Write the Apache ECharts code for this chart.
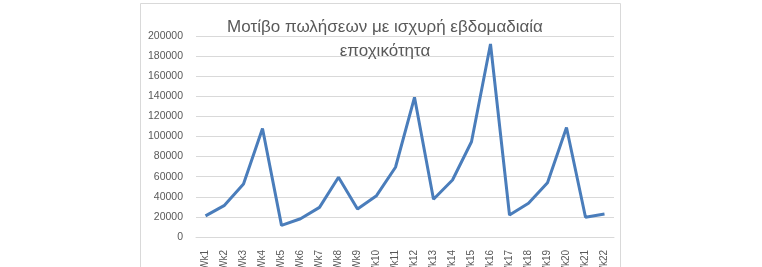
<!DOCTYPE html>
<html><head><meta charset="utf-8">
<script src="https://cdn.jsdelivr.net/npm/echarts@6/dist/echarts.min.js"></script>
<style>html,body{margin:0;padding:0;background:#fff}#c{width:762px;height:267px}</style>
</head><body><div id="c"></div>
<script>
var categories = ['Wk1','Wk2','Wk3','Wk4','Wk5','Wk6','Wk7','Wk8','Wk9','Wk10','Wk11','Wk12','Wk13','Wk14','Wk15','Wk16','Wk17','Wk18','Wk19','Wk20','Wk21','Wk22'];
var sales = [21000,31500,52700,108000,11600,18200,29500,59400,27900,41100,69400,139000,37500,56700,94800,192000,21900,33500,54000,109000,19600,22900];
var titleText = 'Μοτίβο πωλήσεων με ισχυρή εβδομαδιαία\nεποχικότητα';

var chart = echarts.init(document.getElementById('c'), null, {renderer:'canvas'});
chart.setOption({
  animation:false,
  backgroundColor:'#fff',
  graphic:[{type:'rect', shape:{x:140.5,y:3.5,width:480,height:300}, style:{fill:'none', stroke:'#d9d9d9', lineWidth:1}, silent:true}],
  title:{text:titleText, left:380, textAlign:'center', top:10,
    textStyle:{fontFamily:'Liberation Sans', fontWeight:'normal', fontSize:17, color:'#595959', lineHeight:24}},
  grid:{left:196, right:148, top:36, bottom:30, containLabel:false, outerBoundsMode:'none'},
  xAxis:{type:'category', data:categories, boundaryGap:true,
    axisLine:{lineStyle:{color:'#d9d9d9'}}, axisTick:{show:false},
    axisLabel:{rotate:90, margin:13, fontSize:10, color:'#595959', fontFamily:'Liberation Sans', interval:0, hideOverlap:false}},
  yAxis:{type:'value', min:0, max:200000, interval:20000,
    axisLine:{show:false}, axisTick:{show:false},
    splitLine:{lineStyle:{color:'#d9d9d9', width:1}},
    axisLabel:{margin:13, fontSize:10.5, color:'#595959', fontFamily:'Liberation Sans', formatter:function(v){return String(v);}}},
  series:[{type:'line', data:sales, symbol:'none', lineStyle:{color:'#4a7dbb', width:3}, itemStyle:{color:'#4a7dbb'}}]
});
</script></body></html>
